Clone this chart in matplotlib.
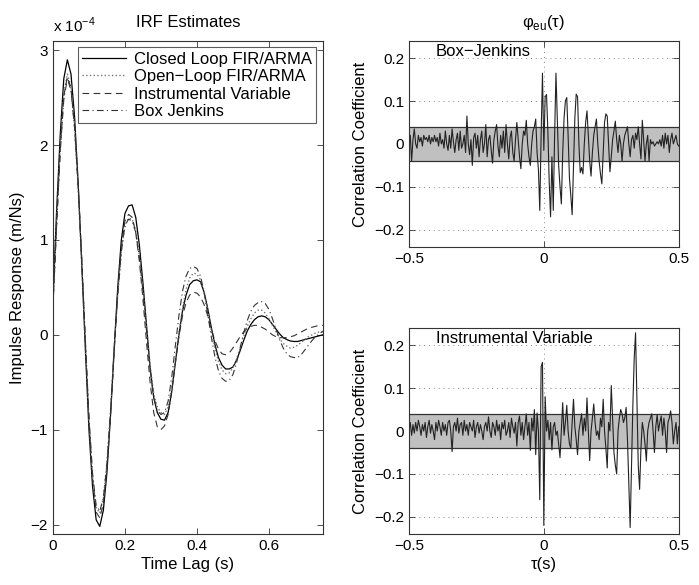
import numpy as np
import matplotlib
matplotlib.use("Agg")
import matplotlib.pyplot as plt

plt.rcParams['font.family'] = ['Liberation Sans', 'DejaVu Sans']
plt.rcParams['mathtext.fontset'] = 'custom'
plt.rcParams['mathtext.rm'] = 'Liberation Sans'
plt.rcParams['axes.unicode_minus'] = True

# IRF estimates, units of 1e-4 m/Ns, sampled every 0.01 s from 0 to 0.75
irf_lag = np.round(np.arange(0, 0.7501, 0.01), 2)
closed_loop = [0.40, 1.30, 2.10, 2.70, 2.90, 2.75, 2.30, 1.60, 0.75, -0.15,
               -1.00, -1.60, -1.95, -2.02, -1.85, -1.45, -0.85, -0.15, 0.50, 1.00,
               1.28, 1.36, 1.37, 1.24, 0.95, 0.55, 0.10, -0.35, -0.66, -0.82,
               -0.89, -0.90, -0.82, -0.60, -0.30, 0.00, 0.25, 0.42, 0.53, 0.57,
               0.58, 0.56, 0.45, 0.28, 0.08, -0.10, -0.24, -0.32, -0.36, -0.36,
               -0.34, -0.27, -0.17, -0.06, 0.04, 0.11, 0.16, 0.19, 0.20, 0.19,
               0.16, 0.11, 0.06, 0.01, -0.03, -0.05, -0.065, -0.07, -0.07, -0.06,
               -0.05, -0.04, -0.03, -0.02, -0.01, 0.00]
open_loop = [0.35, 1.20, 1.98, 2.55, 2.75, 2.62, 2.20, 1.55, 0.72, -0.12,
             -0.92, -1.50, -1.82, -1.88, -1.72, -1.35, -0.80, -0.15, 0.42, 0.88,
             1.15, 1.23, 1.22, 1.10, 0.85, 0.48, 0.08, -0.32, -0.62, -0.76,
             -0.82, -0.84, -0.76, -0.56, -0.28, 0.02, 0.28, 0.48, 0.60, 0.65,
             0.64, 0.58, 0.45, 0.26, 0.05, -0.14, -0.28, -0.37, -0.41, -0.40,
             -0.35, -0.26, -0.14, -0.02, 0.09, 0.17, 0.23, 0.26, 0.26, 0.23,
             0.17, 0.10, 0.03, -0.04, -0.09, -0.12, -0.14, -0.13, -0.11, -0.08,
             -0.05, -0.02, 0.00, 0.02, 0.03, 0.03]
instrumental = [0.30, 1.15, 1.95, 2.52, 2.72, 2.60, 2.20, 1.58, 0.78, -0.08,
                -0.90, -1.52, -1.87, -1.93, -1.78, -1.40, -0.84, -0.18, 0.45, 0.92,
                1.20, 1.27, 1.24, 1.08, 0.78, 0.38, -0.08, -0.50, -0.82, -0.97,
                -1.00, -0.96, -0.84, -0.60, -0.30, -0.02, 0.20, 0.34, 0.42, 0.45,
                0.44, 0.40, 0.32, 0.20, 0.06, -0.06, -0.15, -0.20, -0.21, -0.19,
                -0.14, -0.08, -0.02, 0.03, 0.07, 0.09, 0.10, 0.10, 0.08, 0.06,
                0.03, 0.00, -0.02, -0.03, -0.03, -0.03, -0.02, -0.01, 0.01, 0.03,
                0.05, 0.07, 0.08, 0.09, 0.10, 0.10]
box_jenkins = [0.30, 1.15, 1.92, 2.48, 2.70, 2.58, 2.18, 1.58, 0.80, -0.05,
               -0.86, -1.46, -1.80, -1.86, -1.72, -1.36, -0.82, -0.18, 0.42, 0.88,
               1.15, 1.22, 1.20, 1.08, 0.82, 0.46, 0.04, -0.36, -0.66, -0.80,
               -0.84, -0.82, -0.70, -0.45, -0.12, 0.20, 0.46, 0.62, 0.70, 0.72,
               0.70, 0.62, 0.45, 0.22, -0.02, -0.23, -0.38, -0.46, -0.49, -0.48,
               -0.42, -0.30, -0.14, 0.02, 0.15, 0.25, 0.31, 0.34, 0.35, 0.33,
               0.27, 0.17, 0.06, -0.05, -0.14, -0.20, -0.23, -0.24, -0.24, -0.21,
               -0.16, -0.11, -0.06, -0.02, 0.01, 0.04]

# cross-correlation of residuals and input, lags -0.5..0.5 s every 0.005 s
tau = np.round(np.linspace(-0.5, 0.5, 201), 3)
phi_bj = [
    0.00, 0.02, -0.04, 0.01, 0.035, 0.00, -0.01, 0.02, 0.005, 0.015,
    -0.005, 0.02, 0.01, 0.015, 0.005, 0.02, 0.00, 0.015, 0.005, 0.02,
    0.005, 0.015, -0.005, 0.025, 0.00, 0.01, -0.01, 0.03, 0.00, -0.015,
    0.02, -0.01, 0.035, 0.005, -0.02, 0.01, 0.025, -0.015, 0.03, -0.01,
    0.00, 0.02, -0.02, 0.065, 0.00, -0.025, 0.01, -0.05, 0.015, 0.025,
    -0.01, 0.02, -0.03, 0.01, 0.03, -0.02, 0.00, 0.045, -0.03, 0.01,
    0.02, -0.015, -0.045, 0.01, 0.03, 0.045, -0.005, -0.03, 0.02, -0.01,
    0.03, -0.02, 0.045, 0.00, -0.035, 0.015, 0.03, -0.02, -0.04, 0.01,
    0.05, 0.01, -0.03, -0.058, 0.00, 0.03, 0.02, 0.055, 0.00, -0.03,
    -0.05, 0.00, 0.03, 0.04, 0.058, -0.02, -0.06, -0.155, 0.02, 0.165,
    -0.015, 0.11, 0.115, 0.03, -0.09, -0.17, -0.03, -0.155, 0.02, 0.165,
    0.06, -0.05, -0.10, -0.14, -0.02, 0.06, 0.10, 0.108, 0.02, -0.08,
    -0.12, -0.165, -0.05, 0.06, 0.116, 0.11, 0.00, -0.067, -0.055, -0.07,
    0.00, 0.05, 0.077, 0.02, -0.04, -0.075, -0.02, 0.02, 0.04, 0.058,
    0.00, -0.04, -0.07, -0.093, -0.02, 0.05, 0.07, 0.065, 0.00, -0.065,
    -0.03, 0.01, 0.03, 0.053, 0.01, -0.02, 0.02, 0.00, -0.04, 0.00,
    0.02, 0.03, 0.04, 0.00, -0.03, 0.01, 0.02, -0.01, 0.025, 0.01,
    0.04, 0.00, -0.035, 0.055, 0.01, -0.04, 0.00, 0.02, -0.04, 0.01,
    0.00, 0.005, -0.005, 0.00, 0.005, 0.00, 0.01, -0.005, 0.02, -0.01,
    0.025, 0.00, 0.02, -0.02, 0.01, 0.025, 0.00, 0.01, 0.02, 0.00,
    -0.005]
phi_iv = [
    0.00, 0.02, -0.01, 0.015, -0.005, 0.02, 0.00, 0.025, 0.01, -0.01,
    0.015, 0.00, 0.02, -0.015, 0.01, 0.025, -0.005, 0.015, 0.00, -0.02,
    0.02, 0.00, 0.025, 0.01, -0.01, 0.02, 0.00, 0.015, -0.01, 0.02,
    0.025, 0.00, -0.048, 0.01, 0.02, 0.00, 0.03, -0.005, 0.015, 0.02,
    -0.01, 0.025, 0.00, 0.015, -0.01, 0.02, 0.01, 0.00, 0.025, -0.015,
    0.01, 0.02, -0.005, 0.015, 0.00, -0.02, 0.01, 0.02, 0.00, 0.033,
    0.00, -0.015, 0.02, 0.01, -0.01, 0.025, 0.00, 0.015, -0.02, 0.02,
    0.005, 0.025, -0.01, 0.00, 0.02, -0.015, 0.03, 0.01, -0.005, 0.02,
    -0.035, 0.02, 0.035, -0.01, 0.02, -0.02, 0.01, 0.04, -0.01, 0.02,
    -0.045, 0.03, 0.00, 0.05, -0.055, 0.042, 0.00, -0.16, 0.15, 0.16,
    -0.22, 0.08, 0.00, 0.025, -0.02, 0.02, -0.044, 0.01, 0.02, -0.01,
    0.00, -0.03, -0.062, 0.00, 0.066, -0.01, 0.02, 0.06, 0.00, -0.03,
    -0.04, 0.02, 0.074, 0.01, -0.02, -0.055, 0.00, 0.02, 0.04, -0.01,
    0.03, 0.00, 0.077, 0.00, -0.069, 0.00, 0.03, 0.063, 0.02, -0.01,
    0.00, -0.02, 0.03, 0.01, 0.074, 0.00, -0.04, -0.086, 0.02, 0.00,
    0.106, 0.03, -0.05, -0.08, -0.10, 0.00, 0.03, 0.05, 0.04, 0.02,
    0.03, 0.055, -0.02, -0.12, -0.225, -0.08, 0.06, 0.17, 0.229, 0.07,
    -0.08, -0.136, -0.04, 0.02, 0.00, -0.03, -0.07, 0.00, 0.02, 0.03,
    0.04, 0.00, -0.05, 0.01, 0.038, 0.00, 0.02, 0.035, -0.01, 0.03,
    0.00, -0.05, 0.02, 0.03, 0.047, 0.02, -0.03, 0.00, 0.02, -0.03,
    0.01]
conf_band = 0.04

fig = plt.figure(figsize=(6.99, 5.85), dpi=100)


def matlab_axes(ax):
    ax.tick_params(direction='in', top=True, right=True, labelsize=11,
                   length=4, width=0.6, color='#333333')
    for s in ax.spines.values():
        s.set_linewidth(0.8)
        s.set_color('#333333')


# left: IRF estimates
ax = fig.add_axes([0.0758, 0.0872, 0.386, 0.843])
ax.plot(irf_lag, closed_loop, '-', color='black', lw=0.9, label='Closed Loop FIR/ARMA')
ax.plot(irf_lag, open_loop, ':', color='#777777', lw=1.0, label='Open\u2212Loop FIR/ARMA')
ax.plot(irf_lag, instrumental, '--', color='#333333', lw=0.8, dashes=(6, 4),
        label='Instrumental Variable')
ax.plot(irf_lag, box_jenkins, '-.', color='#333333', lw=0.8, dashes=(6, 3, 1, 3),
        label='Box Jenkins')
ax.set_xlim(0, 0.75)
ax.set_ylim(-2.1, 3.1)
ax.set_xticks([0, 0.2, 0.4, 0.6])
ax.set_xticklabels(['0', '0.2', '0.4', '0.6'])
ax.set_yticks([-2, -1, 0, 1, 2, 3])
ax.set_xlabel('Time Lag (s)', fontsize=12, labelpad=3)
ax.set_ylabel('Impulse Response (m/Ns)', fontsize=12, labelpad=4)
ax.set_title('IRF Estimates', fontsize=12, pad=10)
ax.text(0.0, 1.012, 'x 10$^{-4}$', transform=ax.transAxes, fontsize=11,
        ha='left', va='bottom')
matlab_axes(ax)
leg = ax.legend(loc='upper right', fontsize=12, frameon=True, fancybox=False,
                borderpad=0.25, labelspacing=0.15, handlelength=2.6,
                handletextpad=0.5, borderaxespad=0.4)
leg.get_frame().set_edgecolor('#333333')
leg.get_frame().set_linewidth(0.8)


def corr_panel(rect, values, label):
    ax = fig.add_axes(rect)
    ax.fill_between([-0.5, 0.5], -conf_band, conf_band, color='#c0c0c0', lw=0)
    ax.axhline(conf_band, color='#333333', lw=0.9)
    ax.axhline(-conf_band, color='#333333', lw=0.9)
    ax.plot(tau, values, color='#222222', lw=0.8)
    ax.set_xlim(-0.5, 0.5)
    ax.set_ylim(-0.24, 0.24)
    ax.set_xticks([-0.5, 0, 0.5])
    ax.set_xticklabels(['\u22120.5', '0', '0.5'])
    ax.set_yticks([-0.2, -0.1, 0, 0.1, 0.2])
    ax.set_yticklabels(['\u22120.2', '\u22120.1', '0', '0.1', '0.2'])
    ax.grid(True, linestyle=(0, (1, 4)), color='#888888', lw=0.7)
    ax.set_axisbelow(True)
    ax.set_ylabel('Correlation Coefficient', fontsize=12, labelpad=4)
    ax.text(0.1, 0.985, label, transform=ax.transAxes, fontsize=12,
            ha='left', va='top')
    matlab_axes(ax)
    return ax


ax1 = corr_panel([0.585, 0.578, 0.386, 0.352], phi_bj, 'Box\u2212Jenkins')
ax1.set_title('\u03c6$_{\\mathrm{eu}}$(\u03c4)', fontsize=12, pad=10)
ax2 = corr_panel([0.585, 0.0872, 0.386, 0.352], phi_iv, 'Instrumental Variable')
ax2.set_xlabel('\u03c4(s)', fontsize=12, labelpad=3)

fig.savefig('out.png', dpi=100)
